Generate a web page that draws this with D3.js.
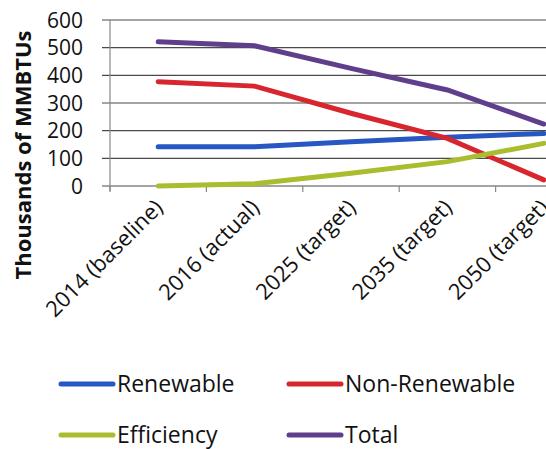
<!DOCTYPE html>
<html><head><meta charset="utf-8">
<script src="https://cdn.jsdelivr.net/npm/d3@7"></script>
<style>body{margin:0;background:#fff}svg{display:block}</style>
</head><body><svg id="c" width="546" height="449"></svg>
<script>
const categories = ["2014 (baseline)", "2016 (actual)", "2025 (target)", "2035 (target)", "2050 (target)"];
const renewable = [142, 142, 160, 176, 190];
const nonRenewable = [377, 361, 263, 172, 22];
const efficiency = [0, 8, 46, 88, 154];
const total = [521, 507, 425, 347, 224];
const yTicks = [0, 100, 200, 300, 400, 500, 600];
const seriesNames = ["Renewable", "Non-Renewable", "Efficiency", "Total"];
const colors = ["#2757c2", "#d8262f", "#a9bd2e", "#5f3f8c"];
const seriesData = [renewable, nonRenewable, efficiency, total];

const svg = d3.select("#c");
const font = "'Open Sans', sans-serif";
const x = d3.scaleBand().domain(categories).range([110, 592]);
const y = d3.scaleLinear().domain([0, 600]).range([186, 20]);

// gridlines
svg.append("g").selectAll("line").data(yTicks).join("line")
  .attr("x1", 102).attr("x2", 546)
  .attr("y1", d => y(d)).attr("y2", d => y(d))
  .attr("stroke", "#4a4a4a").attr("stroke-width", 1.2);

// y axis line
svg.append("line").attr("x1", 110).attr("x2", 110).attr("y1", y(600)).attr("y2", y(0) + 5)
  .attr("stroke", "#888").attr("stroke-width", 1.2);

// x ticks
const tickPos = categories.map(c => x(c));
svg.append("g").selectAll("line").data(tickPos).join("line")
  .attr("x1", d => d).attr("x2", d => d).attr("y1", y(0)).attr("y2", y(0) + 6)
  .attr("stroke", "#888").attr("stroke-width", 1.2);

// y tick labels
svg.append("g").selectAll("text").data(yTicks).join("text")
  .attr("x", 83).attr("y", d => y(d)).attr("dy", "0.36em")
  .attr("text-anchor", "end").attr("font-family", font).attr("font-size", 21).attr("fill", "#111")
  .text(d => d);

// y title
svg.append("text").attr("transform", "translate(31,155) rotate(-90)")
  .attr("text-anchor", "middle").attr("font-family", font).attr("font-weight", "bold")
  .attr("font-size", 22).attr("fill", "#111").text("Thousands of MMBTUs");

// x labels
svg.append("g").selectAll("text").data(categories).join("text")
  .attr("transform", d => `translate(${x(d) + x.bandwidth() / 2 + 6},${209}) rotate(-45)`)
  .attr("text-anchor", "end").attr("font-family", font).attr("font-size", 22).attr("fill", "#111")
  .text(d => d);

// lines
const line = d3.line().x((d, i) => x(categories[i]) + x.bandwidth() / 2).y(d => y(d));
svg.append("g").selectAll("path").data(seriesData).join("path")
  .attr("d", d => line(d)).attr("fill", "none")
  .attr("stroke", (d, i) => colors[i]).attr("stroke-width", 5).attr("stroke-linecap", "round");

// legend
const legPos = [[61, 384], [289, 384], [61, 435], [289, 435]];
const lg = svg.append("g").selectAll("g").data(seriesNames).join("g")
  .attr("transform", (d, i) => `translate(${legPos[i][0]},${legPos[i][1]})`);
lg.append("line").attr("x1", 0).attr("x2", 52).attr("y1", 0).attr("y2", 0)
  .attr("stroke", (d, i) => colors[i]).attr("stroke-width", 5).attr("stroke-linecap", "round");
lg.append("text").attr("x", 56).attr("dy", "0.36em").attr("font-family", font)
  .attr("font-size", 23).attr("fill", "#111").text(d => d);
</script></body></html>
